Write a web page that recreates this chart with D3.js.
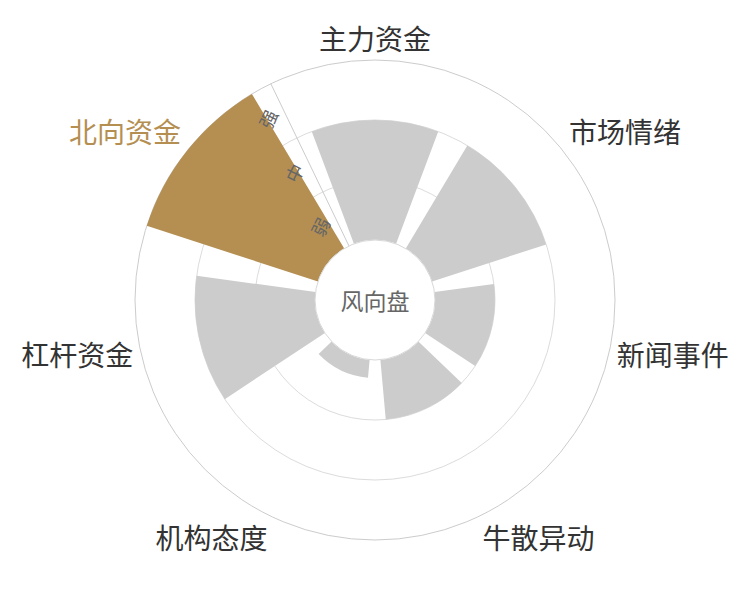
<!DOCTYPE html>
<html>
<head>
<meta charset="utf-8">
<script src="https://cdn.jsdelivr.net/npm/d3@7"></script>
<style>
  html, body { margin: 0; padding: 0; background: #fff; }
  svg { display: block; font-family: "Noto Sans CJK SC", "Noto Sans", sans-serif; }
</style>
</head>
<body>
<svg id="chart" width="750" height="600"></svg>
<script>
// categories round the dial, clockwise from the top
const categories = ["主力资金", "市场情绪", "新闻事件", "牛散异动", "机构态度", "杠杆资金", "北向资金"];
// strength level per category (0 = centre, 3 = 强)
const levels = [2, 2, 1, 1, 0.3, 2, 3];
const levelLabels = ["弱", "中", "强"];
const highlighted = "北向资金";
const centreTitle = "风向盘";

const width = 750, height = 600;
const cx = 375, cy = 300;
const innerR = 60, outerR = 240;
const gold = "#b58f52";

const svg = d3.select("#chart");
const g = svg.append("g").attr("transform", `translate(${cx},${cy})`);

const step = 2 * Math.PI / categories.length;
const startA = -step / 2;

const x = d3.scaleBand()
  .domain(categories)
  .range([startA, startA + 2 * Math.PI])
  .paddingInner(0.2)
  .paddingOuter(0.1);

const y = d3.scaleLinear()
  .domain([0, levelLabels.length])
  .range([innerR, outerR]);

// split circles for each level
g.selectAll("circle.split")
  .data(d3.range(1, levelLabels.length))
  .join("circle")
  .attr("class", "split")
  .attr("r", d => y(d))
  .attr("fill", "none")
  .attr("stroke", "#dcdcdc")
  .attr("stroke-width", 1);

// outer ring
g.append("circle")
  .attr("r", outerR)
  .attr("fill", "none")
  .attr("stroke", "#cccccc")
  .attr("stroke-width", 1);

// radius axis line along the start angle
g.append("line")
  .attr("x1", innerR * Math.sin(startA))
  .attr("y1", -innerR * Math.cos(startA))
  .attr("x2", outerR * Math.sin(startA))
  .attr("y2", -outerR * Math.cos(startA))
  .attr("stroke", "#cccccc")
  .attr("stroke-width", 1);

const arc = d3.arc()
  .innerRadius(innerR)
  .outerRadius(d => y(d.v))
  .startAngle(d => x(d.c))
  .endAngle(d => x(d.c) + x.bandwidth());

const barData = categories.map((c, i) => ({ c: c, v: levels[i] }));

g.selectAll("path.bar")
  .data(barData)
  .join("path")
  .attr("class", "bar")
  .attr("d", arc)
  .attr("fill", d => d.c === highlighted ? gold : "#cccccc");

// centre disc
g.append("circle")
  .attr("r", innerR)
  .attr("fill", "#fff")
  .attr("stroke", "#d8d8d8")
  .attr("stroke-width", 1);

g.append("text")
  .attr("text-anchor", "middle")
  .attr("dominant-baseline", "central")
  .attr("font-size", 23)
  .attr("fill", "#666")
  .text(centreTitle);

// radius axis labels, set beside the axis line
const perp = [-Math.cos(startA), -Math.sin(startA)];
g.selectAll("text.rlabel")
  .data(levelLabels)
  .join("text")
  .attr("class", "rlabel")
  .attr("transform", (d, i) => {
    const r = y(i + 0.5);
    const px = r * Math.sin(startA) + perp[0] * 18;
    const py = -r * Math.cos(startA) + perp[1] * 18;
    return `translate(${px},${py}) rotate(${startA * 180 / Math.PI - 38})`;
  })
  .attr("text-anchor", "middle")
  .attr("dominant-baseline", "central")
  .attr("font-size", 18)
  .attr("fill", "#666")
  .text(d => d);

// angle axis labels
const labelR = outerR + 8;
g.selectAll("text.alabel")
  .data(categories)
  .join("text")
  .attr("class", "alabel")
  .each(function(d) {
    const a = x(d) + x.bandwidth() / 2;
    const px = labelR * Math.sin(a);
    const py = -labelR * Math.cos(a);
    const anchor = Math.abs(px) / labelR < 0.3 ? "middle" : (px > 0 ? "start" : "end");
    const vy = Math.abs(py) / labelR < 0.3 ? 0.4 : (py > 0 ? 0.9 : -0.08);
    d3.select(this)
      .attr("x", px)
      .attr("y", py)
      .attr("dy", vy + "em")
      .attr("text-anchor", anchor);
  })
  .attr("font-size", 28)
  .attr("fill", d => d === highlighted ? gold : "#333")
  .text(d => d);
</script>
</body>
</html>
